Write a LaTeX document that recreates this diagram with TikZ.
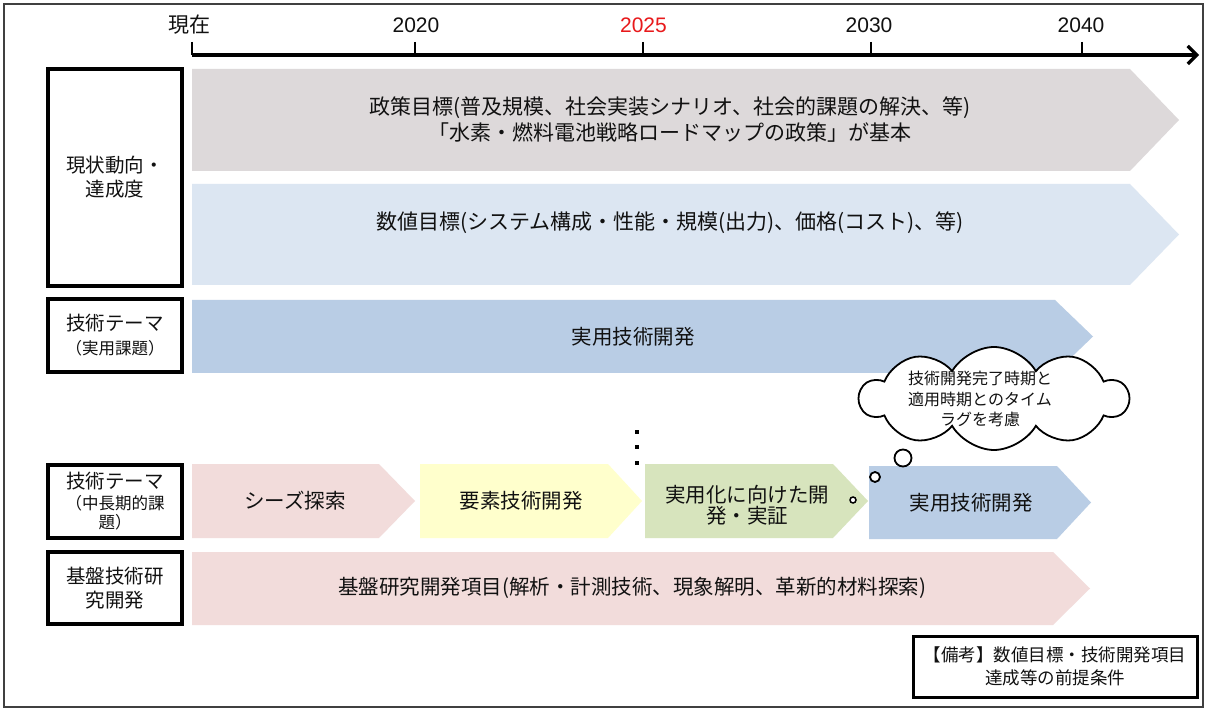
\documentclass[tikz,border=0pt]{standalone}
\usepackage{fontspec}
\setmainfont{Noto Sans CJK JP}
\newfontfamily\latinfont{Liberation Sans}
\usetikzlibrary{shapes.symbols,arrows.meta}
\definecolor{cgray}{HTML}{DDD9DA}
\definecolor{clblue}{HTML}{DCE6F2}
\definecolor{cblue}{HTML}{B9CDE5}
\definecolor{cpink}{HTML}{F2DCDB}
\definecolor{cyellow}{HTML}{FFFFCC}
\definecolor{cgreen}{HTML}{D7E4BD}
\definecolor{cred}{HTML}{E8191B}
\definecolor{ink}{HTML}{111111}
\tikzset{
  frameline/.style={draw=black!75, line width=1.6pt},
  axisline/.style={line width=3.2pt, -{Straight Barb[length=9pt,width=18pt]}},
  tickline/.style={line width=2pt},
  yearlbl/.style={font=\latinfont\fontsize{21}{24}\selectfont, text=ink, inner sep=0pt},
  nowlbl/.style={font=\fontsize{21}{24}\selectfont, text=ink, inner sep=0pt},
  lbox/.style={draw=black, line width=3.2pt, minimum width=134pt, inner sep=0pt, align=center, text=ink, font=\fontsize{19.5}{24}\selectfont},
  btext/.style={font=\fontsize{21}{26}\selectfont, align=center, text=ink, inner sep=0pt},
  rtext/.style={font=\fontsize{20.5}{21}\selectfont, align=center, text=ink, inner sep=0pt},
  notebox/.style={draw=black, line width=3pt, minimum width=284pt, minimum height=61pt, align=center, font=\fontsize{17.5}{23}\selectfont, text=ink, inner sep=0pt},
  thought/.style={cloud, cloud puffs=10, cloud puff arc=120, aspect=2.6, draw=black, fill=white, line width=1.8pt, minimum width=268pt, minimum height=103pt, inner sep=0pt},
  bubble/.style={circle, draw=black, fill=white, line width=1.8pt, inner sep=0pt},
  dotsq/.style={fill=black, minimum size=4pt, inner sep=0pt},
  cloudtext/.style={font=\fontsize{16}{20.5}\selectfont, align=center, inner sep=0pt, text=ink},
}
\newcommand{\sm}{\fontsize{16.5}{19}\selectfont}
\begin{document}
\begin{tikzpicture}[x=1pt,y=-1pt]
\useasboundingbox (0,0) rectangle (1211,711);
\fill[white] (0,0) rectangle (1211,711);
\draw[frameline] (4,4) rectangle (1203,707);

% time axis
\coordinate (a0) at (192,55);
\coordinate (a1) at (1199,55);
\draw[axisline] (a0) -- (a1);
\foreach \x in {192,415,643,871,1082} {\draw[tickline] (\x,42) -- (\x,55);}
\node[nowlbl] (l0) at (189,25) {現在};
\node[yearlbl] (l1) at (416,25) {2020};
\node[yearlbl, text=cred] (l2) at (643.5,25) {2025};
\node[yearlbl] (l3) at (869,25) {2030};
\node[yearlbl] (l4) at (1081,25) {2040};

% bands
\fill[cgray] (192,69) -- (1130,69) -- (1179,120) -- (1130,171) -- (192,171) -- cycle;
\fill[clblue] (192,184) -- (1130,184) -- (1179,234.5) -- (1130,285) -- (192,285) -- cycle;
\fill[cblue] (192,300) -- (1055,300) -- (1093,336.5) -- (1055,373) -- (192,373) -- cycle;
\fill[cpink] (192,464) -- (379,464) -- (415,501) -- (379,538) -- (192,538) -- cycle;
\fill[cyellow] (420,464) -- (608,464) -- (642,501) -- (608,538) -- (420,538) -- cycle;
\fill[cgreen] (645,464) -- (833,464) -- (868,501) -- (833,538) -- (645,538) -- cycle;
\fill[cblue] (869,466) -- (1057,466) -- (1091,502.5) -- (1057,539) -- (869,539) -- cycle;
\fill[cpink] (192,552) -- (1053,552) -- (1090,588.5) -- (1053,625) -- (192,625) -- cycle;

% band texts
\node[btext] (t1) at (670,120) {政策目標(普及規模、社会実装シナリオ、社会的課題の解決、等)\\「水素・燃料電池戦略ロードマップの政策」が基本};
\node[btext] (t2) at (670,223) {数値目標(システム構成・性能・規模(出力)、価格(コスト)、等)};
\node[rtext] (t3) at (633,337) {実用技術開発};
\node[rtext] (t4) at (295,501) {シーズ探索};
\node[rtext] (t5) at (521,501) {要素技術開発};
\node[rtext] (t6) at (747,505) {実用化に向けた開\\発・実証};
\node[rtext] (t7) at (971,503) {実用技術開発};
\node[rtext] (t8) at (632,588) {基盤研究開発項目(解析・計測技術、現象解明、革新的材料探索)};

% left labels
\node[lbox, minimum height=217pt] (b1) at (115,177.5) {現状動向・\\達成度};
\node[lbox, minimum height=73pt] (b2) at (115,335.5) {技術テーマ\\{\sm （実用課題）}};
\node[lbox, minimum height=73pt] (b3) at (115,501.5) {技術テーマ\\[-3pt]{\sm （中長期的課}\\[-5pt]{\sm 題）}};
\node[lbox, minimum height=72pt] (b4) at (115,588) {基盤技術研\\究開発};

% continuation dots
\node[dotsq] (d1) at (637,432) {};
\node[dotsq] (d2) at (637,447) {};
\node[dotsq] (d3) at (637,463) {};

% thought cloud
\node[thought] (cl) at (994,398.5) {};
\node[cloudtext] (clt) at (980,399) {技術開発完了時期と\\適用時期とのタイム\\ラグを考慮};
\node[bubble, minimum size=17pt] (bb1) at (903,458) {};
\node[bubble, minimum size=10pt] (bb2) at (875,477) {};
\node[bubble, minimum size=6pt, line width=1.5pt] (bb3) at (853,500) {};

% note
\node[notebox] (note) at (1055,666.5) {【備考】数値目標・技術開発項目\\達成等の前提条件};
\end{tikzpicture}
\end{document}
